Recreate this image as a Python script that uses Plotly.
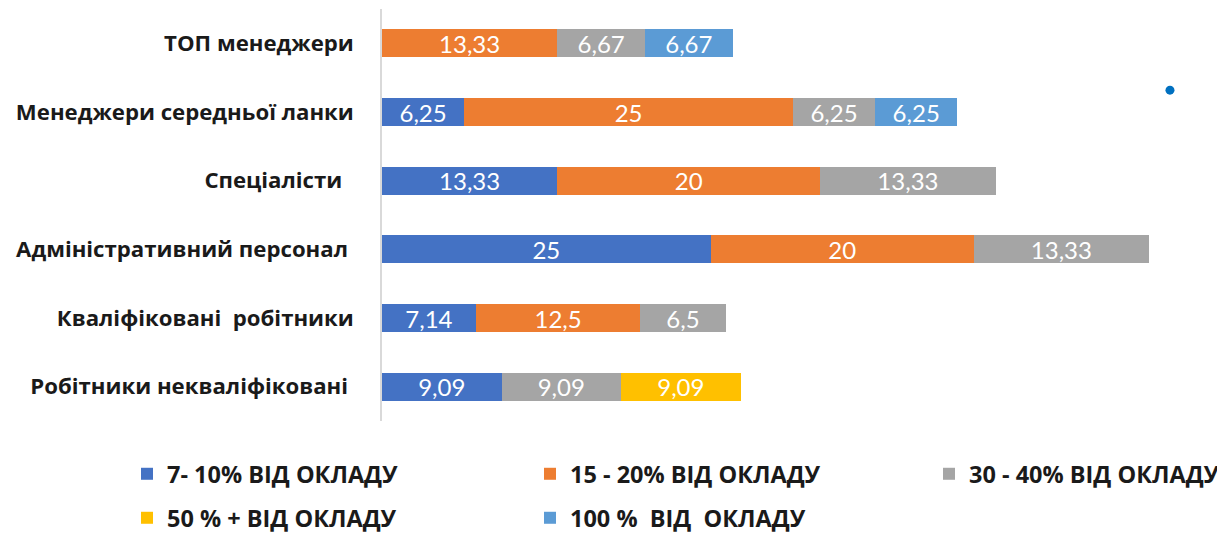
import plotly.graph_objects as go

categories = ["ТОП менеджери", "Менеджери середньої ланки", "Спеціалісти\u00a0\u00a0",
              "Адміністративний персонал\u00a0", "Кваліфіковані\u00a0 робітники",
              "Робітники некваліфіковані\u00a0"]
series_names = ["7- 10% ВІД ОКЛАДУ", "15 - 20% ВІД ОКЛАДУ", "30 - 40% ВІД ОКЛАДУ",
                "50 % + ВІД ОКЛАДУ", "100 %\u00a0 ВІД\u00a0 ОКЛАДУ"]
s_7_10 = [None, 6.25, 13.33, 25, 7.14, 9.09]
s_15_20 = [13.33, 25, 20, 20, 12.5, None]
s_30_40 = [6.67, 6.25, 13.33, 13.33, 6.5, 9.09]
s_50 = [None, None, None, None, None, 9.09]
s_100 = [6.67, 6.25, None, None, None, None]
colors = ["#4472C4", "#ED7D31", "#A5A5A5", "#FFC000", "#5B9BD5"]

series = [s_7_10, s_15_20, s_30_40, s_50, s_100]
legend_ids = ["legend", "legend2", "legend3", "legend4", "legend5"]
# legend placement (figure pixels): left edge, row centre
legend_left_px = [119, 522, 921, 119, 522]
legend_row_px = [466, 466, 466, 510, 510]

# page body has an 8px margin, so the figure is drawn 8px in from the top-left
W, H = 1217, 525

fig = go.Figure()
for name, vals, col, lg in zip(series_names, series, colors, legend_ids):
    fig.add_trace(go.Bar(
        y=categories, x=vals, name=name, orientation="h",
        marker=dict(color=col, line=dict(width=0)),
        texttemplate="%{x:.2~f}", textposition="inside", insidetextanchor="middle",
        textangle=0, constraintext="none",
        textfont=dict(color="white", size=24, family="Lato, Open Sans, sans-serif"),
        legend=lg,
    ))

legend_font = dict(family="Open Sans, sans-serif", size=23.5, color="#1a1a1a", weight="bold")
legends = {}
for lg, lx, ly in zip(legend_ids, legend_left_px, legend_row_px):
    legends[lg] = dict(orientation="v", xref="container", yref="container",
                       x=lx / W, y=1 - ly / H, xanchor="left", yanchor="middle",
                       font=legend_font, itemwidth=30, bgcolor="rgba(0,0,0,0)")

fig.update_layout(
    width=W, height=H,
    barmode="stack", bargap=0.59,
    separators=", ",
    plot_bgcolor="white", paper_bgcolor="white",
    margin=dict(l=374, r=54, t=1, b=111.6, autoexpand=False),
    xaxis=dict(range=[0, 60], showgrid=False, showticklabels=False, zeroline=False,
               showline=False, ticks="", automargin=False),
    yaxis=dict(autorange="reversed", showgrid=False, zeroline=False, automargin=False,
               showline=True, linecolor="#D9D9D9", linewidth=1.5, ticks="",
               ticklabelstandoff=22,
               tickfont=dict(family="Open Sans, sans-serif", size=22.2, color="#1a1a1a", weight="bold")),
    showlegend=True,
    **legends,
)
fig.add_shape(type="circle", xref="paper", yref="paper",
              x0=0.9930, x1=1.0044, y0=0.792, y1=0.814,
              fillcolor="#0070C0", line=dict(width=0))

fig.write_html("out.html")
